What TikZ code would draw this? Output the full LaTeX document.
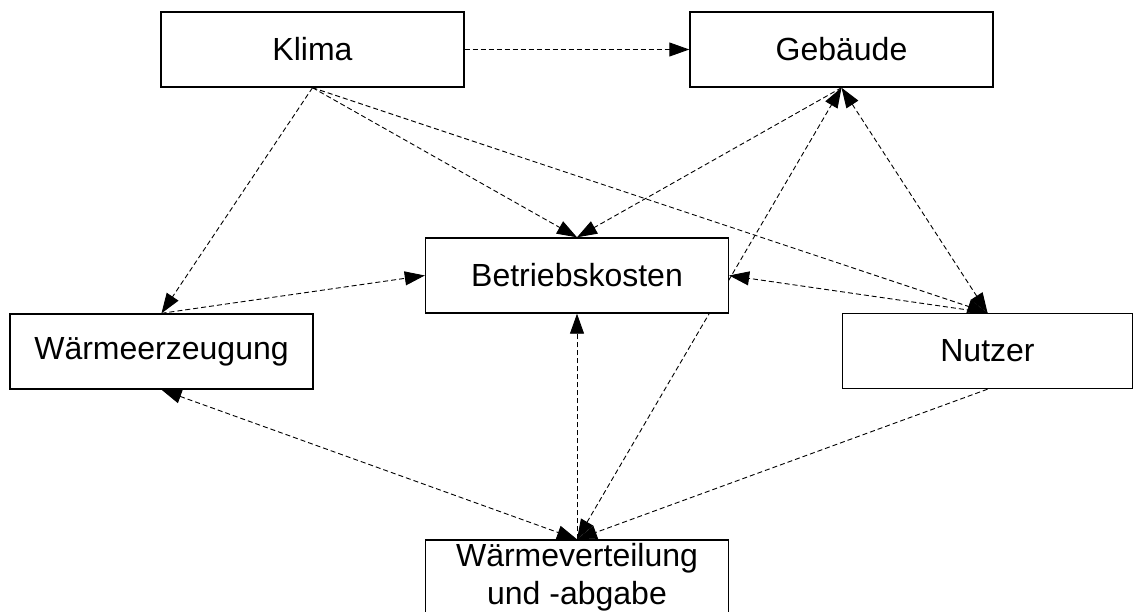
\documentclass[tikz,border=0pt]{standalone}
\usepackage{fontspec}
\setmainfont{Liberation Sans}
\usepackage{tikz}
\usetikzlibrary{arrows.meta,backgrounds}
\tikzset{
    block/.style={draw=black,line width=1.4pt,fill=white,minimum width=303pt,minimum height=75pt,
        inner sep=0pt,align=center,font=\fontsize{32}{38.4}\selectfont},
    flow/.style={black,line width=0.9pt,dash pattern=on 5pt off 3pt},
    >={Triangle[length=20pt,width=14pt]}
}
\begin{document}
\begin{tikzpicture}[x=1pt,y=-1pt]
\useasboundingbox (0,0) rectangle (1134,612);
\node[block](klima) at (312.5,49.5){Klima};
\node[block](gebaeude) at (841.5,49.5){Geb\"aude};
\node[block](betrieb) at (577,275.5){Betriebskosten};
\node[block](erzeugung) at (161.5,351.5){W\"armeerzeugung};
\node[block,minimum width=290pt](nutzer) at (987.5,351){Nutzer};
\node[block](verteilung) at (577,577.5){W\"armeverteilung\\und -abgabe};

\begin{scope}[on background layer]
\draw[flow,->](klima.east)--(gebaeude.west);
\draw[flow,->](klima.south)--(erzeugung.north);
\draw[flow,->](klima.south)--(betrieb.north);
\draw[flow,->](klima.south)--(nutzer.north);
\draw[flow,->](gebaeude.south)--(betrieb.north);
\draw[flow,<->](gebaeude.south)--(nutzer.north);
\draw[flow,->](erzeugung.north)--(betrieb.west);
\draw[flow,->](nutzer.north)--(betrieb.east);
\draw[flow,<->](erzeugung.south)--(verteilung.north);
\draw[flow,->](verteilung.north)--(betrieb.south);
\draw[flow,<->](verteilung.north)--(gebaeude.south);
\draw[flow,->](nutzer.south)--(verteilung.north);
\end{scope}
\end{tikzpicture}
\end{document}
